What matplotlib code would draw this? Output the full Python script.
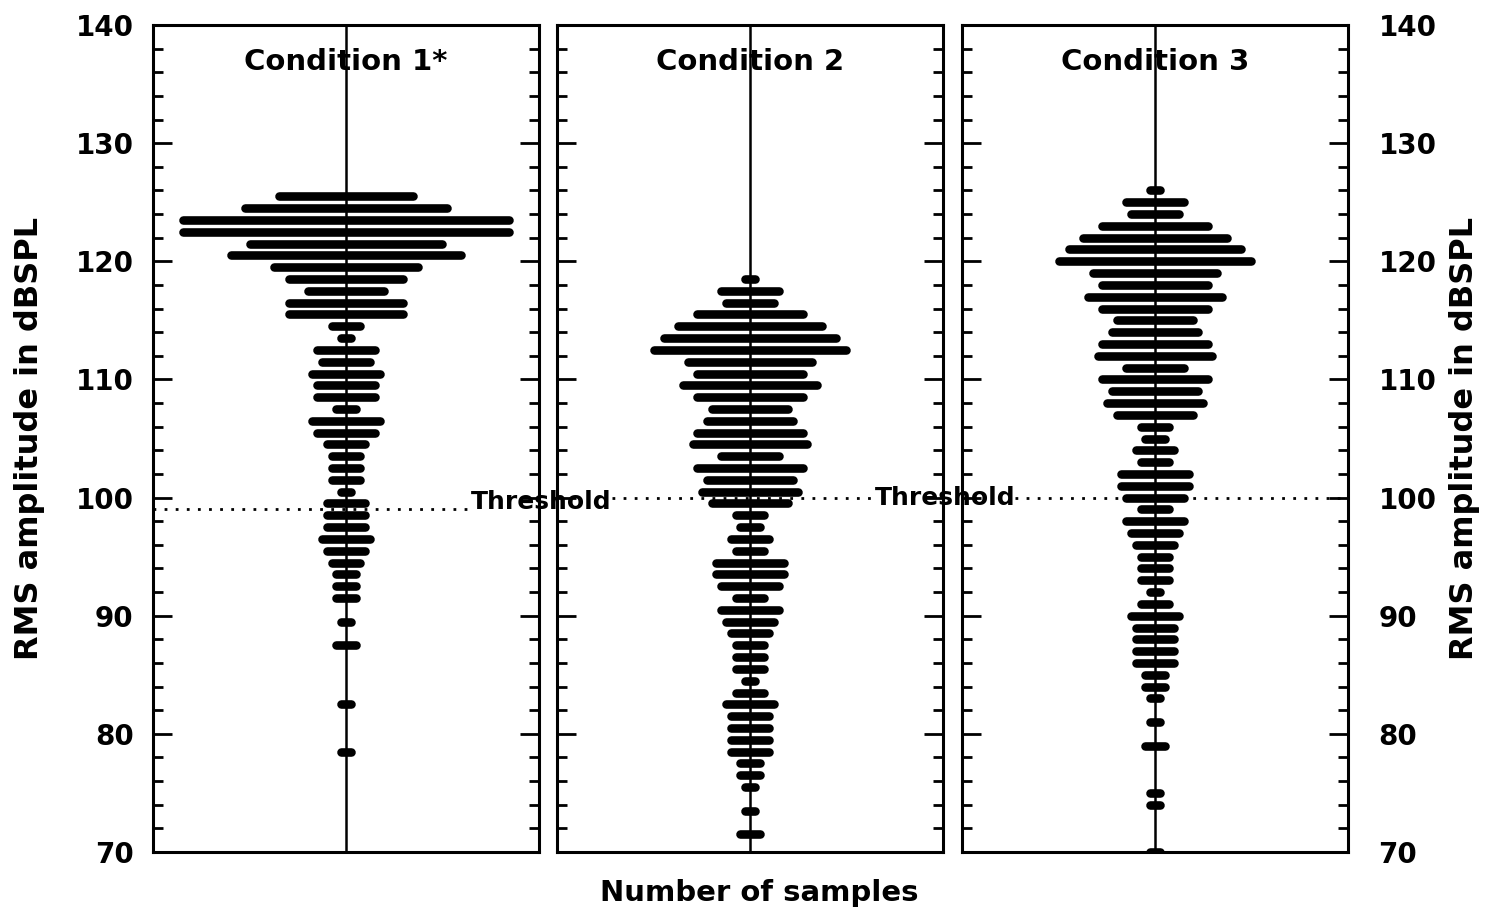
import numpy as np
import matplotlib
matplotlib.use("Agg")
import matplotlib.pyplot as plt

# RMS amplitude bins (dB SPL) and number of samples in each bin
cond1_levels = [125.5, 124.5, 123.5, 122.5, 121.5, 120.5, 119.5, 118.5, 117.5, 116.5,
                115.5, 114.5, 113.5, 112.5, 111.5, 110.5, 109.5, 108.5, 107.5, 106.5,
                105.5, 104.5, 103.5, 102.5, 101.5, 100.5, 99.5, 98.5, 97.5, 96.5,
                95.5, 94.5, 93.5, 92.5, 91.5, 89.5, 87.5, 82.5, 78.5]
cond1_counts = [14, 21, 34, 34, 20, 24, 15, 12, 8, 12,
                12, 3, 1, 6, 5, 7, 6, 6, 2, 7,
                6, 4, 3, 3, 3, 1, 4, 4, 4, 5,
                4, 3, 2, 2, 2, 1, 2, 1, 1]

cond2_levels = [118.5, 117.5, 116.5, 115.5, 114.5, 113.5, 112.5, 111.5, 110.5, 109.5,
                108.5, 107.5, 106.5, 105.5, 104.5, 103.5, 102.5, 101.5, 100.5, 99.5,
                98.5, 97.5, 96.5, 95.5, 94.5, 93.5, 92.5, 91.5, 90.5, 89.5,
                88.5, 87.5, 86.5, 85.5, 84.5, 83.5, 82.5, 81.5, 80.5, 79.5,
                78.5, 77.5, 76.5, 75.5, 73.5, 71.5]
cond2_counts = [1, 6, 5, 11, 15, 18, 20, 13, 11, 14,
                11, 8, 9, 11, 12, 6, 11, 9, 10, 8,
                3, 2, 4, 3, 7, 7, 6, 3, 6, 5,
                4, 3, 3, 3, 1, 3, 5, 4, 4, 4,
                4, 2, 2, 1, 1, 2]

cond3_levels = [126, 125, 124, 123, 122, 121, 120, 119, 118, 117,
                116, 115, 114, 113, 112, 111, 110, 109, 108, 107,
                106, 105, 104, 103, 102, 101, 100, 99, 98, 97,
                96, 95, 94, 93, 92, 91, 90, 89, 88, 87,
                86, 85, 84, 83, 81, 79, 75, 74, 70]
cond3_counts = [1, 6, 5, 11, 15, 18, 20, 13, 11, 14,
                11, 8, 9, 11, 12, 6, 11, 9, 10, 8,
                3, 2, 4, 3, 7, 7, 6, 3, 6, 5,
                4, 3, 3, 3, 1, 3, 5, 4, 4, 4,
                4, 2, 2, 1, 1, 2, 1, 1, 1]

titles = ["Condition 1*", "Condition 2", "Condition 3"]
thresholds = [99, 100, 100]

levels = [cond1_levels, cond2_levels, cond3_levels]
counts = [cond1_counts, cond2_counts, cond3_counts]

fig = plt.figure(figsize=(14.89, 9.17), dpi=100)

lefts = [153 / 1489, 557 / 1489, 962 / 1489]
bottom = 1 - 852 / 917
width = 386 / 1489
height = 827 / 917

# dotted threshold line extents (axes fraction) - stops where label text sits
thr_span = [(0.0, 0.82), (0.142, 0.824), (0.137, 1.0)]

axes = []
for i in range(3):
    ax = fig.add_axes([lefts[i], bottom, width, height])
    axes.append(ax)
    lv = np.array(levels[i], dtype=float)
    n = np.array(counts[i], dtype=float)

    ax.axvline(0, color="black", lw=1.8, zorder=2)
    ax.hlines(lv, -n / 2, n / 2, colors="black", lw=6.2, capstyle="round", zorder=3)
    ax.axhline(thresholds[i], xmin=thr_span[i][0], xmax=thr_span[i][1],
               color="black", lw=2, linestyle=(0, (1, 3)), zorder=1)

    ax.set_xlim(-20.15, 20.15)
    ax.set_ylim(70, 140)
    ax.set_xticks([])
    ax.set_yticks(np.arange(70, 141, 10))
    ax.set_yticks(np.arange(70, 141, 2), minor=True)
    ax.tick_params(axis="y", which="both", direction="in", left=True, right=True,
                   labelleft=False, labelright=False, width=2)
    ax.tick_params(axis="y", which="major", length=14)
    ax.tick_params(axis="y", which="minor", length=7.5)
    for s in ax.spines.values():
        s.set_linewidth(2.2)

    ax.text(0, 0.955, titles[i], transform=ax.get_xaxis_transform(),
            ha="center", va="center", fontsize=21, fontweight="bold", zorder=4)

# first panel's "Threshold" label runs into panel 2, so draw that panel on top
axes[0].set_zorder(2)
axes[0].patch.set_alpha(0)

axes[0].tick_params(axis="y", which="major", labelleft=True, labelsize=20, pad=14)
axes[2].tick_params(axis="y", which="major", labelright=True, labelsize=20, pad=22)
for lab in axes[0].get_yticklabels() + axes[2].get_yticklabels():
    lab.set_fontweight("bold")

axes[0].set_ylabel("RMS amplitude in dBSPL", fontsize=23, fontweight="bold", labelpad=22)
axes[2].yaxis.set_label_position("right")
axes[2].set_ylabel("RMS amplitude in dBSPL", fontsize=23, fontweight="bold", labelpad=9)

# threshold labels straddle the gaps between panels
axes[0].text(1.005, 99, "Threshold", transform=axes[0].get_yaxis_transform(),
             ha="center", va="baseline", fontsize=18, fontweight="bold",
             clip_on=False, zorder=5)
axes[2].text(-0.044, 100, "Threshold", transform=axes[2].get_yaxis_transform(),
             ha="center", va="center", fontsize=18, fontweight="bold",
             clip_on=False, zorder=5)

fig.text(0.510, 0.026, "Number of samples", ha="center", va="center",
         fontsize=21, fontweight="bold")

fig.savefig("out.png", dpi=100)
